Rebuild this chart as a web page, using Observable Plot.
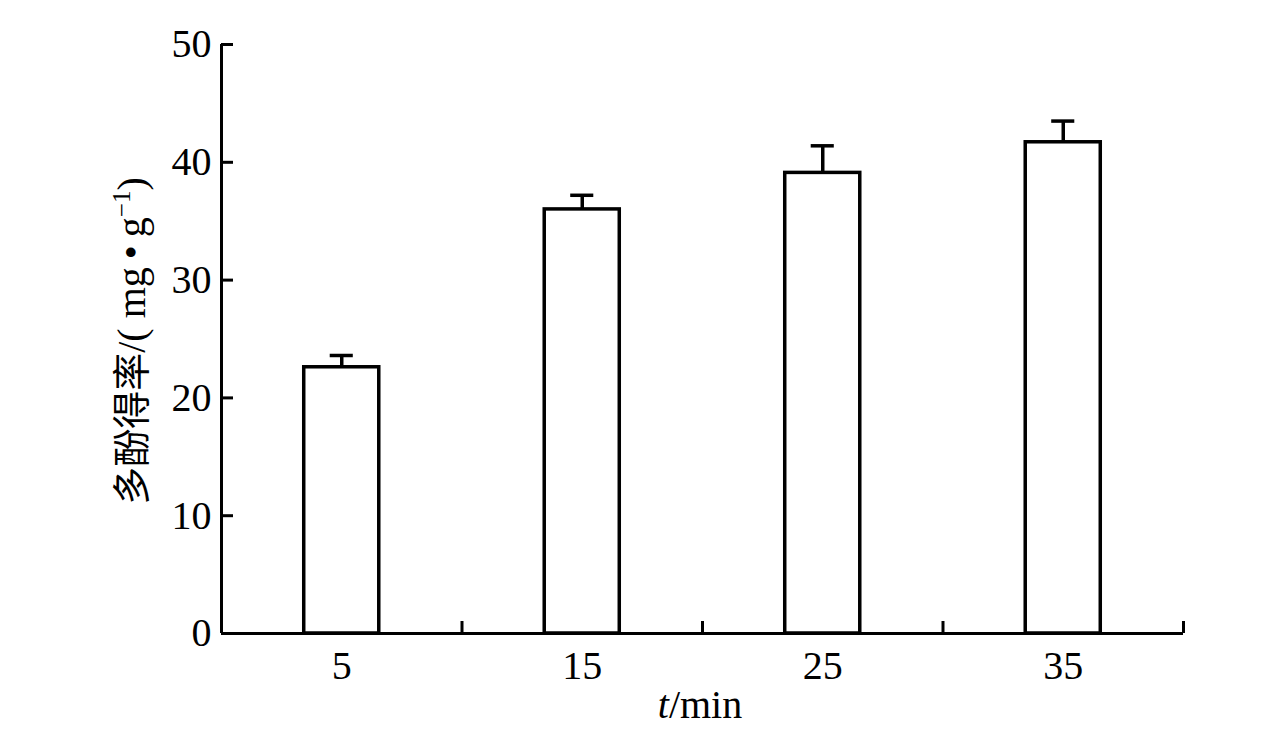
<!DOCTYPE html>
<html><head><meta charset="utf-8">
<script src="https://cdn.jsdelivr.net/npm/d3@7"></script>
<script src="https://cdn.jsdelivr.net/npm/@observablehq/plot@0.6"></script>
<style>body{margin:0;background:#fff}</style>
</head><body><div id="chart"></div>
<script>
const times = [5, 15, 25, 35];
const yields = [22.6, 36.0, 39.1, 41.7];
const errors = [1.0, 1.2, 2.3, 1.8];
const xBoundaryTicks = [0, 10, 20, 30, 40];
const yTicks = [0, 10, 20, 30, 40, 50];

const data = times.map((t, i) => ({t, v: yields[i], e: errors[i]}));
const barHalf = 1.56, capHalf = 0.48;
const serif = "'Liberation Serif','Times New Roman',serif";

const chart = Plot.plot({
  width: 1276, height: 739,
  marginLeft: 221, marginRight: 93, marginTop: 44, marginBottom: 106,
  style: {fontFamily: serif, fontSize: "40px", color: "#000", background: "#fff"},
  x: {domain: [0, 40]},
  y: {domain: [0, 50]},
  marks: [
    Plot.ruleX(data, {x: "t", y1: "v", y2: d => d.v + d.e, stroke: "#000", strokeWidth: 3.5}),
    Plot.ruleY(data, {y: d => d.v + d.e, x1: d => d.t - capHalf, x2: d => d.t + capHalf, stroke: "#000", strokeWidth: 3.5}),
    Plot.rectY(data, {x1: d => d.t - barHalf, x2: d => d.t + barHalf, y1: 0, y2: "v", fill: "#fff", stroke: "#000", strokeWidth: 3.5}),
    Plot.axisY({ticks: yTicks, tickSize: -12, tickPadding: 22, strokeWidth: 3, fontSize: 40, label: null}),
    Plot.axisX({ticks: xBoundaryTicks, tickSize: -12, tickFormat: () => "", strokeWidth: 3, label: null}),
    Plot.axisX({ticks: times, tickSize: 0, tickPadding: 17, fontSize: 40, label: null}),
    Plot.ruleY([0], {stroke: "#000", strokeWidth: 3}),
    Plot.ruleX([0], {stroke: "#000", strokeWidth: 3})
  ]
});

const svg = d3.select(chart);
const yl = svg.append("text")
  .attr("transform", "translate(145,341) rotate(-90)")
  .attr("text-anchor", "middle")
  .attr("fill", "#000")
  .style("font-size", "40px")
  .style("font-family", serif);
yl.append("tspan").style("font-family", "'Noto Sans CJK SC'").style("font-size", "38px").text("多酚得率");
yl.append("tspan").text("/( mg\u2009•\u2009g");
yl.append("tspan").attr("dy", -15).style("font-size", "25px").text("−1");
yl.append("tspan").attr("dy", 15).text(")");

const xl = svg.append("text")
  .attr("x", 700).attr("y", 718)
  .attr("text-anchor", "middle")
  .attr("fill", "#000")
  .style("font-size", "40px")
  .style("font-family", serif);
xl.append("tspan").style("font-style", "italic").text("t");
xl.append("tspan").text("/min");

document.getElementById("chart").appendChild(chart);
</script>
</body></html>
